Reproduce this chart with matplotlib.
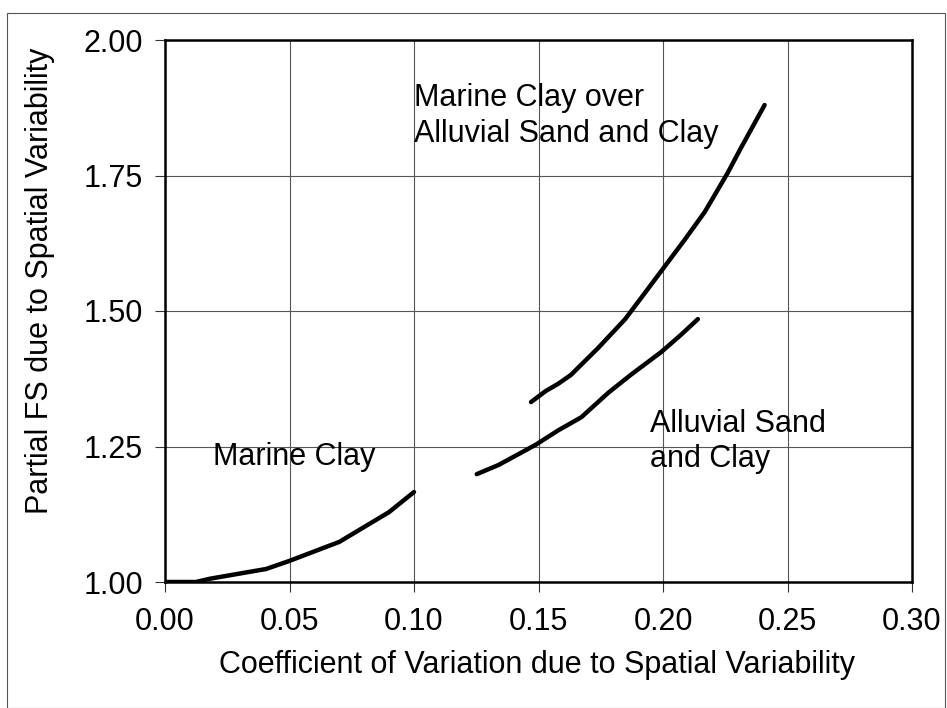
import matplotlib
matplotlib.use("Agg")
import matplotlib.pyplot as plt
from matplotlib.patches import Rectangle

plt.rcParams['font.family'] = ['Liberation Sans', 'DejaVu Sans']

# Partial factor of safety vs. coefficient of variation, one curve per soil profile
marine_cov = [0.0, 0.0124, 0.018, 0.0406, 0.05, 0.07, 0.09, 0.10]
marine_fs = [1.0, 1.0, 1.006, 1.024, 1.039, 1.074, 1.129, 1.166]

over_cov = [0.147, 0.1528, 0.158, 0.163, 0.174, 0.1848, 0.193, 0.200,
            0.2088, 0.2168, 0.226, 0.2312, 0.2408]
over_fs = [1.332, 1.352, 1.366, 1.382, 1.432, 1.485, 1.535, 1.578,
           1.632, 1.683, 1.755, 1.800, 1.880]

alluvial_cov = [0.1252, 0.134, 0.1488, 0.158, 0.1672, 0.178, 0.187, 0.1992,
                0.2072, 0.214]
alluvial_fs = [1.199, 1.216, 1.253, 1.280, 1.304, 1.349, 1.382, 1.424,
               1.456, 1.485]

xticks = [0.00, 0.05, 0.10, 0.15, 0.20, 0.25, 0.30]
yticks = [1.00, 1.25, 1.50, 1.75, 2.00]

fs_text = 22

fig = plt.figure(figsize=(9.47, 7.08), dpi=100)
ax = fig.add_axes([165 / 947, 1 - 582 / 708, 747 / 947, 542 / 708])

for cov, fs in [(marine_cov, marine_fs), (over_cov, over_fs),
                (alluvial_cov, alluvial_fs)]:
    ax.plot(cov, fs, color='black', lw=3.2, solid_capstyle='round',
            solid_joinstyle='round', zorder=3)

ax.set_xlim(0, 0.30)
ax.set_ylim(1.0, 2.0)
ax.set_xticks(xticks)
ax.set_yticks(yticks)
ax.set_xticklabels(['%.2f' % v for v in xticks])
ax.set_yticklabels(['%.2f' % v for v in yticks])
ax.grid(True, color='#555555', lw=0.8)
ax.tick_params(direction='out', length=7, width=0.8, colors='#333333',
               labelcolor='black', labelsize=fs_text)
ax.tick_params(axis='x', pad=11)
ax.tick_params(axis='y', pad=9)
for sp in ax.spines.values():
    sp.set_linewidth(1.8)
    sp.set_color('black')

ax.text(0.0192, 1.231, 'Marine Clay', fontsize=fs_text, va='center', ha='left')
ax.text(0.10, 1.92, 'Marine Clay over\nAlluvial Sand and Clay', fontsize=fs_text,
        va='top', ha='left', linespacing=1.25)
ax.text(0.1948, 1.32, 'Alluvial Sand\nand Clay', fontsize=fs_text, va='top',
        ha='left', linespacing=1.25)

fig.text(537 / 947, 1 - 665 / 708,
         'Coefficient of Variation due to Spatial Variability',
         fontsize=fs_text, ha='center', va='center')
fig.text(40 / 947, 1 - 281 / 708, 'Partial FS due to Spatial Variability',
         fontsize=fs_text, ha='center', va='center', rotation=90)

# thin frame round the whole chart area
fig.patches.append(Rectangle((7 / 947, 0), 938 / 947, 1 - 13 / 708,
                             transform=fig.transFigure, fill=False,
                             edgecolor='#555555', lw=0.8))

fig.savefig('out.png', dpi=100)
